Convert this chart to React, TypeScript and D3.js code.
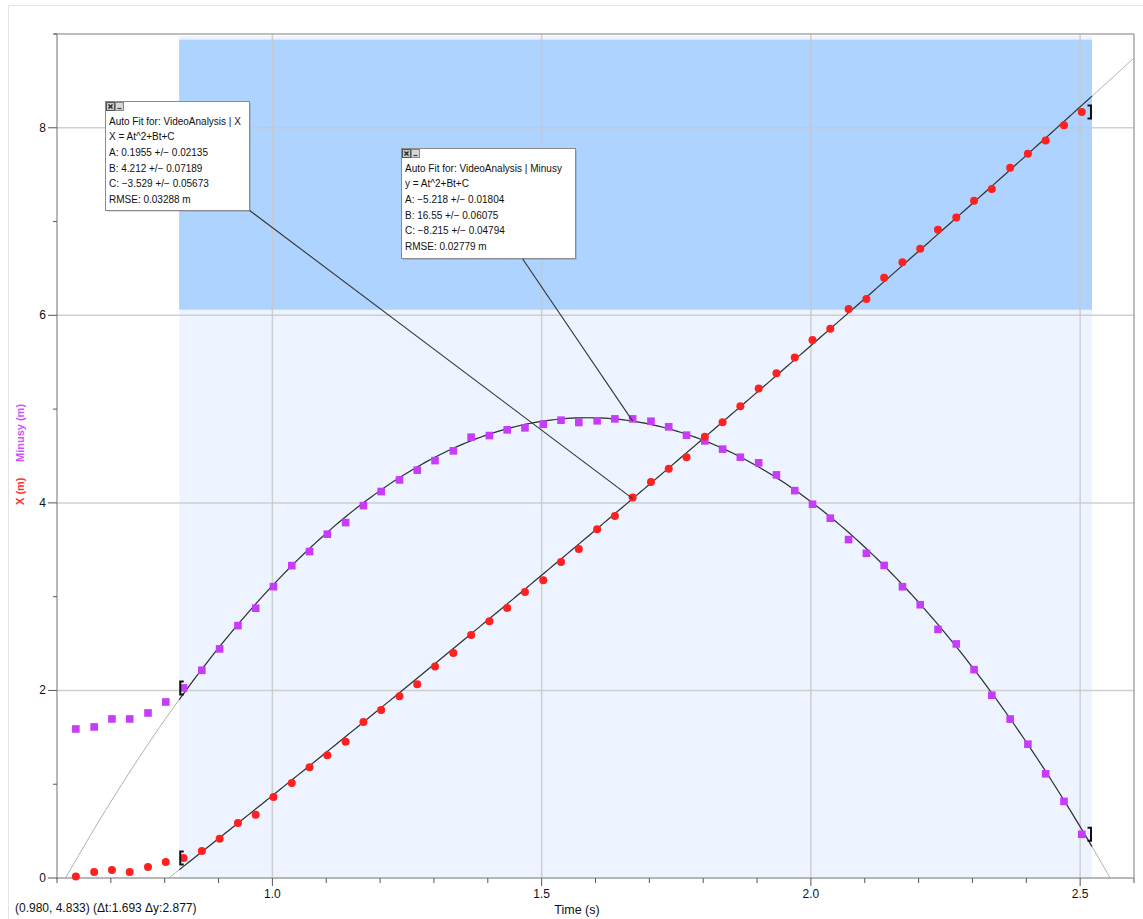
import { line, range, scaleLinear } from "d3";
import type { ReactElement } from "react";

const W = 1143;
const H = 919;
const PLOT = { left: 57, right: 1134, top: 34, bottom: 878 };
const FONT = "'Liberation Sans', Arial, sans-serif";

const RED = "#ff2020";
const PURPLE = "#c63cfa";

// frame times (s)
const times = [
  0.635, 0.669, 0.702, 0.735, 0.769, 0.802, 0.835, 0.869, 0.902, 0.936,
  0.969, 1.002, 1.036, 1.069, 1.102, 1.136, 1.169, 1.202, 1.236, 1.269,
  1.302, 1.336, 1.369, 1.403, 1.436, 1.469, 1.503, 1.536, 1.569, 1.603,
  1.636, 1.669, 1.703, 1.736, 1.769, 1.803, 1.836, 1.869, 1.903, 1.936,
  1.970, 2.003, 2.036, 2.070, 2.103, 2.136, 2.170, 2.203, 2.236, 2.270,
  2.303, 2.336, 2.370, 2.403, 2.436, 2.470, 2.503,
];

const xValues = [
  0.015, 0.064, 0.085, 0.064, 0.117, 0.171, 0.213, 0.288, 0.419, 0.587,
  0.675, 0.864, 1.013, 1.181, 1.309, 1.454, 1.664, 1.792, 1.938, 2.066,
  2.254, 2.400, 2.592, 2.738, 2.880, 3.051, 3.176, 3.371, 3.509, 3.719,
  3.861, 4.057, 4.224, 4.363, 4.487, 4.704, 4.861, 5.031, 5.219, 5.383,
  5.550, 5.736, 5.856, 6.067, 6.174, 6.401, 6.566, 6.711, 6.912, 7.042,
  7.223, 7.346, 7.573, 7.724, 7.864, 8.028, 8.168,
];

const minusyValues = [
  1.589, 1.611, 1.696, 1.696, 1.760, 1.877, 2.027, 2.215, 2.443, 2.691,
  2.877, 3.107, 3.331, 3.481, 3.666, 3.790, 3.971, 4.121, 4.245, 4.349,
  4.451, 4.555, 4.701, 4.718, 4.779, 4.800, 4.839, 4.882, 4.857, 4.875,
  4.896, 4.896, 4.871, 4.811, 4.722, 4.661, 4.573, 4.487, 4.427, 4.299,
  4.131, 3.986, 3.837, 3.609, 3.462, 3.333, 3.106, 2.914, 2.651, 2.496,
  2.222, 1.949, 1.695, 1.427, 1.111, 0.817, 0.466,
];

// fit coefficients A, B, C (At^2 + Bt + C)
const xFit = [0.1955, 4.212, -3.529];
const minusyFit = [-5.218, 16.55, -8.215];
const fitRange = [0.827, 2.522];
const selectionBand = [6.06, 8.94];
const selectionTop = 8.98;

const xMajorTicks = [1.0, 1.5, 2.0, 2.5];
const xTickLabels = ["1.0", "1.5", "2.0", "2.5"];
const yMajorTicks = [0, 2, 4, 6, 8];

const xFitLines = [
  "Auto Fit for: VideoAnalysis | X",
  "X = At^2+Bt+C",
  "A: 0.1955 +/\u2212 0.02135",
  "B: 4.212 +/\u2212 0.07189",
  "C: \u22123.529 +/\u2212 0.05673",
  "RMSE: 0.03288 m",
];
const minusyFitLines = [
  "Auto Fit for: VideoAnalysis | Minusy",
  "y = At^2+Bt+C",
  "A: \u22125.218 +/\u2212 0.01804",
  "B: 16.55 +/\u2212 0.06075",
  "C: \u22128.215 +/\u2212 0.04794",
  "RMSE: 0.02779 m",
];
const statusText = "(0.980, 4.833) (\u0394t:1.693 \u0394y:2.877)";
const LEADER_INDEX = 31;

const xs = scaleLinear().domain([0.6, 2.6]).range([PLOT.left, PLOT.right]);
const ys = scaleLinear().domain([0, 9]).range([PLOT.bottom, PLOT.top]);

const quad = (c: number[]) => (t: number): number => c[0] * t * t + c[1] * t + c[2];

const fitPath = (c: number[], t0: number, t1: number): string => {
  const f = quad(c);
  const ts = range(0, 201).map((i) => t0 + ((t1 - t0) * i) / 200);
  return line<number>()
    .x((t) => xs(t))
    .y((t) => ys(f(t)))(ts) ?? "";
};

const bracket = (cx: number, cy: number, dir: number): string =>
  `M${cx + 3.5 * dir},${cy - 6.5}H${cx}V${cy + 6.5}H${cx + 3.5 * dir}`;

type BoxProps = { x: number; y: number; w: number; h: number; lines: string[] };

const FitBox = ({ x, y, w, h, lines }: BoxProps): ReactElement => (
  <g>
    <rect x={x + 2} y={y + 2} width={w} height={h} fill="#000" opacity={0.12} />
    <rect x={x + 0.5} y={y + 0.5} width={w} height={h} fill="#fff" stroke="#8a8a8a" />
    {/* close / minimise buttons */}
    <rect x={x + 1.5} y={y + 1.5} width={8} height={8} fill="#c8c8c8" stroke="#555" />
    <path d={`M${x + 3.5},${y + 3.5}L${x + 7.5},${y + 7.5}M${x + 7.5},${y + 3.5}L${x + 3.5},${y + 7.5}`} stroke="#222" strokeWidth={1.3} />
    <rect x={x + 10.5} y={y + 1.5} width={8} height={8} fill="#d6d6d6" stroke="#888" />
    <path d={`M${x + 12.5},${y + 7.5}H${x + 16.5}`} stroke="#444" strokeWidth={1.2} />
    {lines.map((s, i) => (
      <text key={i} x={x + 4} y={y + 23.5 + i * 15.7} fontSize={10} fontFamily={FONT} fill="#111">
        {s}
      </text>
    ))}
  </g>
);

export default function App(): ReactElement {
  const lead = times[LEADER_INDEX];
  const clipW = PLOT.right - PLOT.left;
  const clipH = PLOT.bottom - PLOT.top;
  const fx = quad(xFit);
  const fy = quad(minusyFit);
  const last = times.length - 1;
  const firstIn = times.findIndex((t) => t >= fitRange[0]);

  return (
    <svg
      width={W}
      height={H}
      style={{ position: "absolute", left: 0, top: 0, background: "#fff" }}
    >
      <defs>
        <clipPath id="plot-clip">
          <rect x={PLOT.left} y={PLOT.top} width={clipW} height={clipH} />
        </clipPath>
      </defs>

      {/* window frame */}
      <path d={`M8.5,${H}V5.5H${W}`} fill="none" stroke="#e4e4e4" />

      {/* selection band */}
      <rect
        x={xs(fitRange[0])}
        y={ys(selectionTop)}
        width={xs(fitRange[1]) - xs(fitRange[0])}
        height={ys(0) - ys(selectionTop)}
        fill="#edf4ff"
      />
      <rect
        x={xs(fitRange[0])}
        y={ys(selectionBand[1])}
        width={xs(fitRange[1]) - xs(fitRange[0])}
        height={ys(selectionBand[0]) - ys(selectionBand[1])}
        fill="#aed3fe"
      />

      {/* grid */}
      {xMajorTicks.map((t) => (
        <line key={`gx${t}`} x1={xs(t)} x2={xs(t)} y1={PLOT.top} y2={PLOT.bottom} stroke="#c8c8c8" strokeOpacity={0.85} strokeWidth={1.5} />
      ))}
      {yMajorTicks.filter((v) => v > 0).map((v) => (
        <line key={`gy${v}`} x1={PLOT.left} x2={PLOT.right} y1={ys(v)} y2={ys(v)} stroke="#c8c8c8" strokeOpacity={0.85} strokeWidth={1.5} />
      ))}

      {/* frame + axes */}
      <line x1={PLOT.left - 3} x2={PLOT.right} y1={PLOT.top} y2={PLOT.top} stroke="#a8a8a8" strokeWidth={1.5} />
      <line x1={PLOT.right} x2={PLOT.right} y1={PLOT.top} y2={PLOT.bottom} stroke="#a8a8a8" strokeWidth={1.5} />
      <line x1={PLOT.left} x2={PLOT.left} y1={PLOT.top} y2={PLOT.bottom + 1} stroke="#a0a0a0" strokeWidth={1.5} />
      <line x1={PLOT.left} x2={PLOT.right} y1={PLOT.bottom} y2={PLOT.bottom} stroke="#a0a0a0" strokeWidth={1.5} />

      {/* ticks */}
      {xs.ticks(20).map((t) => {
        const major = xMajorTicks.some((m) => Math.abs(m - t) < 1e-6);
        return (
          <line key={`tx${t}`} x1={xs(t)} x2={xs(t)} y1={PLOT.bottom} y2={PLOT.bottom + (major ? 8 : 5)} stroke="#555" strokeWidth={1} />
        );
      })}
      {ys.ticks(9).map((v) => {
        const major = yMajorTicks.includes(v);
        return (
          <line key={`ty${v}`} x1={PLOT.left - (major ? 9 : 4)} x2={PLOT.left} y1={ys(v)} y2={ys(v)} stroke="#555" strokeWidth={1} />
        );
      })}
      {xMajorTicks.map((t, i) => (
        <text key={`lx${t}`} x={xs(t)} y={PLOT.bottom + 20} textAnchor="middle" fontSize={12} fontFamily={FONT} fill="#111">
          {xTickLabels[i]}
        </text>
      ))}
      {yMajorTicks.map((v) => (
        <text key={`ly${v}`} x={PLOT.left - 11} y={ys(v) + 4} textAnchor="end" fontSize={12} fontFamily={FONT} fill="#111">
          {v}
        </text>
      ))}

      {/* axis titles */}
      <text x={577} y={914} textAnchor="middle" fontSize={12.5} fontFamily={FONT} fill="#111">
        Time (s)
      </text>
      <text transform="translate(24,505) rotate(-90)" fontSize={11} fontWeight="bold" fontFamily={FONT} fill="#ff3333">
        X (m)
      </text>
      <text transform="translate(24,462) rotate(-90)" fontSize={11} fontWeight="bold" fontFamily={FONT} fill="#cc55ff">
        Minusy (m)
      </text>
      <text x={15} y={912} fontSize={12} fontFamily={FONT} fill="#111">
        {statusText}
      </text>

      {/* fit curves */}
      <g clipPath="url(#plot-clip)" fill="none">
        <path d={fitPath(xFit, 0.6, 2.6)} stroke="#a8a8a8" strokeWidth={0.9} />
        <path d={fitPath(minusyFit, 0.6, 2.6)} stroke="#a8a8a8" strokeWidth={0.9} />
        <path d={fitPath(xFit, fitRange[0], fitRange[1])} stroke="#333" strokeWidth={1.2} />
        <path d={fitPath(minusyFit, fitRange[0], fitRange[1])} stroke="#333" strokeWidth={1.2} />
      </g>

      {/* data */}
      {times.map((t, i) => (
        <rect key={`m${i}`} x={xs(t) - 3.8} y={ys(minusyValues[i]) - 3.8} width={7.6} height={7.6} fill={PURPLE} />
      ))}
      {times.map((t, i) => (
        <circle key={`x${i}`} cx={xs(t)} cy={ys(xValues[i])} r={4} fill={RED} />
      ))}

      {/* fit range brackets */}
      <g fill="none" stroke="#111" strokeWidth={2}>
        <path d={bracket(xs(fitRange[0]) + 1, ys(xValues[firstIn]), 1)} />
        <path d={bracket(xs(fitRange[0]) + 1, ys(minusyValues[firstIn]), 1)} />
        <path d={bracket(xs(fitRange[1]) - 1, ys(xValues[last]), -1)} />
        <path d={bracket(xs(fitRange[1]) - 1, ys(minusyValues[last]), -1)} />
      </g>

      {/* leader lines */}
      <line x1={249} y1={210} x2={xs(lead)} y2={ys(fx(lead))} stroke="#333" strokeWidth={1.1} />
      <line x1={522} y1={258} x2={xs(lead)} y2={ys(fy(lead))} stroke="#333" strokeWidth={1.1} />

      <FitBox x={105} y={101} w={144} h={109} lines={xFitLines} />
      <FitBox x={401} y={148} w={174} h={110} lines={minusyFitLines} />
    </svg>
  );
}
